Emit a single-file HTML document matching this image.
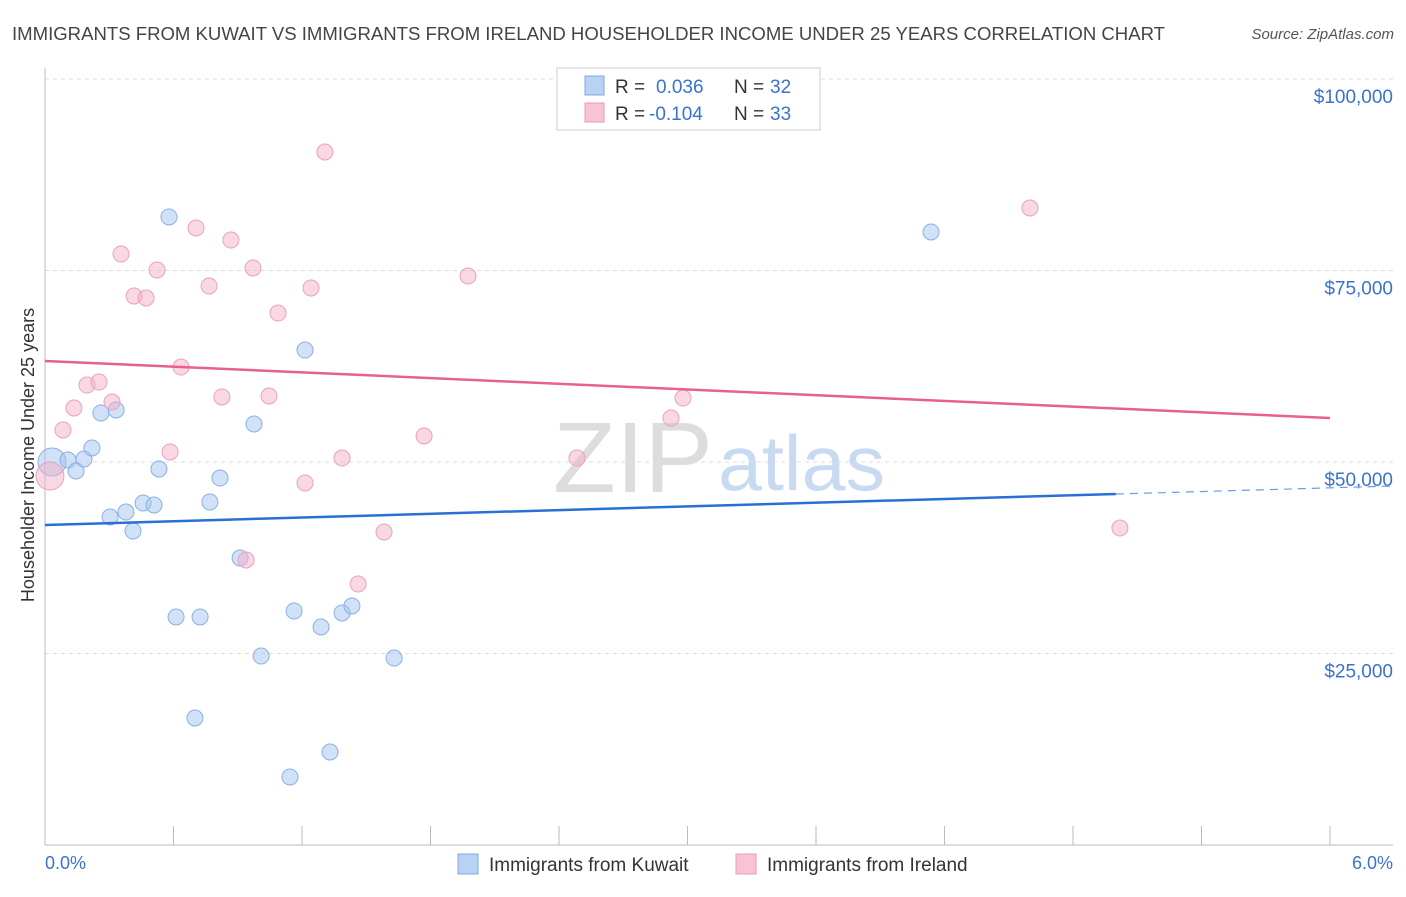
<!DOCTYPE html>
<html><head><meta charset="utf-8"><style>
body{margin:0;background:#fff;font-family:"Liberation Sans",sans-serif;}
svg text{font-family:"Liberation Sans",sans-serif;}
</style></head><body>
<svg id="chart" width="1406" height="892">
<text x="12" y="40" font-size="18" fill="#444" textLength="1153" lengthAdjust="spacingAndGlyphs">IMMIGRANTS FROM KUWAIT VS IMMIGRANTS FROM IRELAND HOUSEHOLDER INCOME UNDER 25 YEARS CORRELATION CHART</text>
<text x="1394" y="39" font-size="15" fill="#555" text-anchor="end" font-style="italic">Source: ZipAtlas.com</text>
<text x="553" y="492" font-size="100" fill="#ddd" font-family="Liberation Serif" textLength="160" lengthAdjust="spacingAndGlyphs">ZIP</text>
<text x="718" y="490" font-size="78" fill="#c8daf2" textLength="167" lengthAdjust="spacingAndGlyphs">atlas</text>
<g id="grid"></g><g id="axes"></g><g id="marks"></g>
<text transform="translate(34,455) rotate(-90)" font-size="18" fill="#333" text-anchor="middle">Householder Income Under 25 years</text>
<text x="45" y="869" font-size="18" fill="#3a72d0">0.0%</text>
<text x="1393" y="869" font-size="18" fill="#3a72d0" text-anchor="end">6.0%</text>
<g>
<rect x="557" y="68" width="263" height="62" fill="#fff" stroke="#ccc"/>
<rect x="585" y="76" width="19" height="19" fill="#b8d2f4" stroke="#7fa8e0"/>
<rect x="585" y="103" width="19" height="19" fill="#f8c4d4" stroke="#e89ab4"/>
<text y="93" font-size="19"><tspan x="615" fill="#333">R =</tspan><tspan x="656" fill="#3a72d0">0.036</tspan><tspan x="734" fill="#333">N =</tspan><tspan x="770" fill="#3a72d0">32</tspan></text>
<text y="120" font-size="19"><tspan x="615" fill="#333">R =</tspan><tspan x="649" fill="#3a72d0">-0.104</tspan><tspan x="734" fill="#333">N =</tspan><tspan x="770" fill="#3a72d0">33</tspan></text>
</g>
<g>
<rect x="458" y="854" width="20" height="20" fill="#b8d2f4" stroke="#7fa8e0"/>
<text x="489" y="871" font-size="19" fill="#333">Immigrants from Kuwait</text>
<rect x="736" y="854" width="20" height="20" fill="#f8c4d4" stroke="#e89ab4"/>
<text x="767" y="871" font-size="19" fill="#333">Immigrants from Ireland</text>
</g>
</svg>
<script>
const kuwaitX=[0.033,0.107,0.145,0.182,0.219,0.261,0.332,0.304,0.378,0.411,0.458,0.509,0.532,0.579,0.612,0.700,0.724,0.770,0.817,0.911,0.976,1.009,1.144,1.163,1.214,1.289,1.331,1.387,1.433,1.630,4.137];
const kuwaitY=[50000,50260,48830,50390,51830,56400,56790,42820,43470,40990,44650,44390,49090,81990,29770,16580,29770,44780,47910,37470,54960,24670,8880,30550,64620,28460,12140,30290,31200,24410,80030];
const irelandX=[0.023,0.084,0.135,0.196,0.252,0.313,0.355,0.416,0.472,0.523,0.584,0.635,0.705,0.766,0.826,0.868,0.939,0.971,1.046,1.088,1.214,1.242,1.307,1.387,1.462,1.583,1.770,1.975,2.484,2.923,2.979,4.599,5.019];
const irelandY=[48170,54180,57050,60050,60440,57830,77150,71670,71410,75070,51310,62400,80550,72980,58490,78980,37210,75330,58620,69450,47260,72720,90470,50520,34070,40860,53390,74280,50520,55740,58350,83160,41380];
const kuwaitTrend=[41780,45820,46870];
const irelandTrend=[63190,55740];
const yTicks=[25000,50000,75000,100000];
const yTickLabels=["$25,000","$50,000","$75,000","$100,000"];
const xTicks=[0,0.6,1.2,1.8,2.4,3.0,3.6,4.2,4.8,5.4,6.0];

const NS="http://www.w3.org/2000/svg";
const X=v=>45+v/6*1285;
const Y=v=>845-v/25000*191.5;
function mk(tag,attrs,parent){const e=document.createElementNS(NS,tag);for(const k in attrs)e.setAttribute(k,attrs[k]);document.getElementById(parent).appendChild(e);return e;}

yTicks.forEach((t,i)=>{
  const g=mk('line',{x1:45,x2:1393,y1:Y(t),y2:Y(t),stroke:'#ddd','stroke-dasharray':'4,4'},'grid');
  
  
  const l=mk('text',{x:1393,y:Y(t)+24,'font-size':19,fill:'#3a72d0','text-anchor':'end'},'grid');
  l.textContent=yTickLabels[i];
  
  
});
const ya=mk('line',{x1:45,x2:45,y1:68,y2:845,stroke:'#bbb'},'axes');


const xa=mk('line',{x1:45,x2:1393,y1:845,y2:845,stroke:'#bbb'},'axes');


xTicks.forEach(t=>{
  const k=mk('line',{x1:X(t),x2:X(t),y1:826,y2:845,stroke:'#bbb'},'axes');
  
  
});
function dots(xs,ys,fill,stroke,name){
  xs.forEach((x,i)=>{
    const r=i===0?14:8;
    const c=mk('circle',{cx:X(x),cy:Y(ys[i]),r:r,fill:fill,stroke:stroke,'stroke-width':1},'marks');
    
    
  });
}
dots(kuwaitX,kuwaitY,'rgba(164,196,240,0.5)','#8ab0e2','kuwait-point');
dots(irelandX,irelandY,'rgba(244,176,200,0.5)','#eaa2bb','ireland-point');
let t1=mk('line',{x1:X(0),y1:Y(kuwaitTrend[0]),x2:X(5),y2:Y(kuwaitTrend[1]),stroke:'#2a6fd6','stroke-width':2.5},'marks');


let t2=mk('line',{x1:X(5),y1:Y(kuwaitTrend[1]),x2:X(6.3),y2:Y(kuwaitTrend[2]),stroke:'#6a9be0','stroke-width':1.2,'stroke-dasharray':'8,6'},'marks');


let t3=mk('line',{x1:X(0),y1:Y(irelandTrend[0]),x2:X(6),y2:Y(irelandTrend[1]),stroke:'#e8608e','stroke-width':2.5},'marks');


</script>
</body></html>
